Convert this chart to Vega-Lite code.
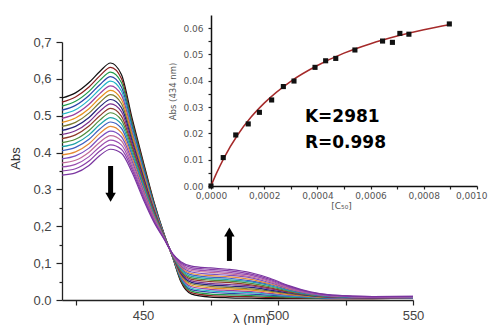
{
"$schema": "https://vega.github.io/schema/vega-lite/v6.json",
"width": 351, "height": 258,
"autosize": {"type": "none"},
"padding": {"left": 62, "top": 42, "right": 75, "bottom": 25},
"background": "white",
"config": {"view": {"stroke": null}, "font": "Liberation Sans", "axis": {"grid": false, "labelFlush": false, "domainColor": "#222", "tickColor": "#222", "labelColor": "#444", "titleColor": "#333", "titleFontWeight": "normal"}},
"datasets": {
"spectra": [
{"s":0,"w":420,"a":0.548},{"s":0,"w":425,"a":0.562},{"s":0,"w":430,"a":0.590},{"s":0,"w":434,"a":0.620},{"s":0,"w":438,"a":0.643},{"s":0,"w":442,"a":0.612},{"s":0,"w":446,"a":0.492},{"s":0,"w":450,"a":0.378},{"s":0,"w":454,"a":0.268},{"s":0,"w":458,"a":0.175},{"s":0,"w":461,"a":0.115},{"s":0,"w":464,"a":0.050},{"s":0,"w":468,"a":0.016},{"s":0,"w":475,"a":0.008},{"s":0,"w":482,"a":0.006},{"s":0,"w":490,"a":0.005},{"s":0,"w":497,"a":0.004},{"s":0,"w":504,"a":0.004},{"s":0,"w":512,"a":0.004},{"s":0,"w":520,"a":0.004},{"s":0,"w":535,"a":0.004},{"s":0,"w":550,"a":0.005},
{"s":1,"w":420,"a":0.537},{"s":1,"w":425,"a":0.551},{"s":1,"w":430,"a":0.578},{"s":1,"w":434,"a":0.608},{"s":1,"w":438,"a":0.631},{"s":1,"w":442,"a":0.601},{"s":1,"w":446,"a":0.484},{"s":1,"w":450,"a":0.373},{"s":1,"w":454,"a":0.265},{"s":1,"w":458,"a":0.174},{"s":1,"w":461,"a":0.116},{"s":1,"w":464,"a":0.053},{"s":1,"w":468,"a":0.020},{"s":1,"w":475,"a":0.012},{"s":1,"w":482,"a":0.010},{"s":1,"w":490,"a":0.009},{"s":1,"w":497,"a":0.007},{"s":1,"w":504,"a":0.006},{"s":1,"w":512,"a":0.005},{"s":1,"w":520,"a":0.004},{"s":1,"w":535,"a":0.004},{"s":1,"w":550,"a":0.005},
{"s":2,"w":420,"a":0.526},{"s":2,"w":425,"a":0.539},{"s":2,"w":430,"a":0.566},{"s":2,"w":434,"a":0.596},{"s":2,"w":438,"a":0.618},{"s":2,"w":442,"a":0.590},{"s":2,"w":446,"a":0.477},{"s":2,"w":450,"a":0.367},{"s":2,"w":454,"a":0.262},{"s":2,"w":458,"a":0.174},{"s":2,"w":461,"a":0.116},{"s":2,"w":464,"a":0.056},{"s":2,"w":468,"a":0.024},{"s":2,"w":475,"a":0.016},{"s":2,"w":482,"a":0.014},{"s":2,"w":490,"a":0.012},{"s":2,"w":497,"a":0.010},{"s":2,"w":504,"a":0.008},{"s":2,"w":512,"a":0.006},{"s":2,"w":520,"a":0.005},{"s":2,"w":535,"a":0.005},{"s":2,"w":550,"a":0.006},
{"s":3,"w":420,"a":0.515},{"s":3,"w":425,"a":0.528},{"s":3,"w":430,"a":0.555},{"s":3,"w":434,"a":0.584},{"s":3,"w":438,"a":0.606},{"s":3,"w":442,"a":0.578},{"s":3,"w":446,"a":0.469},{"s":3,"w":450,"a":0.362},{"s":3,"w":454,"a":0.259},{"s":3,"w":458,"a":0.173},{"s":3,"w":461,"a":0.117},{"s":3,"w":464,"a":0.059},{"s":3,"w":468,"a":0.028},{"s":3,"w":475,"a":0.021},{"s":3,"w":482,"a":0.018},{"s":3,"w":490,"a":0.016},{"s":3,"w":497,"a":0.013},{"s":3,"w":504,"a":0.010},{"s":3,"w":512,"a":0.007},{"s":3,"w":520,"a":0.005},{"s":3,"w":535,"a":0.005},{"s":3,"w":550,"a":0.006},
{"s":4,"w":420,"a":0.504},{"s":4,"w":425,"a":0.516},{"s":4,"w":430,"a":0.543},{"s":4,"w":434,"a":0.572},{"s":4,"w":438,"a":0.594},{"s":4,"w":442,"a":0.567},{"s":4,"w":446,"a":0.461},{"s":4,"w":450,"a":0.356},{"s":4,"w":454,"a":0.256},{"s":4,"w":458,"a":0.172},{"s":4,"w":461,"a":0.117},{"s":4,"w":464,"a":0.061},{"s":4,"w":468,"a":0.032},{"s":4,"w":475,"a":0.025},{"s":4,"w":482,"a":0.022},{"s":4,"w":490,"a":0.020},{"s":4,"w":497,"a":0.016},{"s":4,"w":504,"a":0.011},{"s":4,"w":512,"a":0.008},{"s":4,"w":520,"a":0.006},{"s":4,"w":535,"a":0.005},{"s":4,"w":550,"a":0.006},
{"s":5,"w":420,"a":0.493},{"s":5,"w":425,"a":0.505},{"s":5,"w":430,"a":0.531},{"s":5,"w":434,"a":0.560},{"s":5,"w":438,"a":0.581},{"s":5,"w":442,"a":0.556},{"s":5,"w":446,"a":0.453},{"s":5,"w":450,"a":0.351},{"s":5,"w":454,"a":0.253},{"s":5,"w":458,"a":0.172},{"s":5,"w":461,"a":0.118},{"s":5,"w":464,"a":0.064},{"s":5,"w":468,"a":0.036},{"s":5,"w":475,"a":0.029},{"s":5,"w":482,"a":0.026},{"s":5,"w":490,"a":0.023},{"s":5,"w":497,"a":0.018},{"s":5,"w":504,"a":0.013},{"s":5,"w":512,"a":0.009},{"s":5,"w":520,"a":0.006},{"s":5,"w":535,"a":0.005},{"s":5,"w":550,"a":0.006},
{"s":6,"w":420,"a":0.482},{"s":6,"w":425,"a":0.494},{"s":6,"w":430,"a":0.519},{"s":6,"w":434,"a":0.548},{"s":6,"w":438,"a":0.569},{"s":6,"w":442,"a":0.544},{"s":6,"w":446,"a":0.446},{"s":6,"w":450,"a":0.346},{"s":6,"w":454,"a":0.250},{"s":6,"w":458,"a":0.171},{"s":6,"w":461,"a":0.118},{"s":6,"w":464,"a":0.067},{"s":6,"w":468,"a":0.040},{"s":6,"w":475,"a":0.033},{"s":6,"w":482,"a":0.030},{"s":6,"w":490,"a":0.027},{"s":6,"w":497,"a":0.021},{"s":6,"w":504,"a":0.015},{"s":6,"w":512,"a":0.010},{"s":6,"w":520,"a":0.007},{"s":6,"w":535,"a":0.006},{"s":6,"w":550,"a":0.007},
{"s":7,"w":420,"a":0.471},{"s":7,"w":425,"a":0.482},{"s":7,"w":430,"a":0.507},{"s":7,"w":434,"a":0.536},{"s":7,"w":438,"a":0.557},{"s":7,"w":442,"a":0.533},{"s":7,"w":446,"a":0.438},{"s":7,"w":450,"a":0.340},{"s":7,"w":454,"a":0.247},{"s":7,"w":458,"a":0.171},{"s":7,"w":461,"a":0.119},{"s":7,"w":464,"a":0.070},{"s":7,"w":468,"a":0.044},{"s":7,"w":475,"a":0.037},{"s":7,"w":482,"a":0.034},{"s":7,"w":490,"a":0.030},{"s":7,"w":497,"a":0.024},{"s":7,"w":504,"a":0.017},{"s":7,"w":512,"a":0.011},{"s":7,"w":520,"a":0.007},{"s":7,"w":535,"a":0.006},{"s":7,"w":550,"a":0.007},
{"s":8,"w":420,"a":0.460},{"s":8,"w":425,"a":0.471},{"s":8,"w":430,"a":0.495},{"s":8,"w":434,"a":0.524},{"s":8,"w":438,"a":0.544},{"s":8,"w":442,"a":0.522},{"s":8,"w":446,"a":0.430},{"s":8,"w":450,"a":0.335},{"s":8,"w":454,"a":0.244},{"s":8,"w":458,"a":0.170},{"s":8,"w":461,"a":0.119},{"s":8,"w":464,"a":0.073},{"s":8,"w":468,"a":0.048},{"s":8,"w":475,"a":0.041},{"s":8,"w":482,"a":0.038},{"s":8,"w":490,"a":0.034},{"s":8,"w":497,"a":0.027},{"s":8,"w":504,"a":0.019},{"s":8,"w":512,"a":0.012},{"s":8,"w":520,"a":0.008},{"s":8,"w":535,"a":0.006},{"s":8,"w":550,"a":0.007},
{"s":9,"w":420,"a":0.449},{"s":9,"w":425,"a":0.459},{"s":9,"w":430,"a":0.483},{"s":9,"w":434,"a":0.512},{"s":9,"w":438,"a":0.532},{"s":9,"w":442,"a":0.511},{"s":9,"w":446,"a":0.422},{"s":9,"w":450,"a":0.329},{"s":9,"w":454,"a":0.242},{"s":9,"w":458,"a":0.169},{"s":9,"w":461,"a":0.120},{"s":9,"w":464,"a":0.076},{"s":9,"w":468,"a":0.052},{"s":9,"w":475,"a":0.045},{"s":9,"w":482,"a":0.042},{"s":9,"w":490,"a":0.038},{"s":9,"w":497,"a":0.030},{"s":9,"w":504,"a":0.021},{"s":9,"w":512,"a":0.013},{"s":9,"w":520,"a":0.008},{"s":9,"w":535,"a":0.006},{"s":9,"w":550,"a":0.007},
{"s":10,"w":420,"a":0.438},{"s":10,"w":425,"a":0.448},{"s":10,"w":430,"a":0.472},{"s":10,"w":434,"a":0.500},{"s":10,"w":438,"a":0.520},{"s":10,"w":442,"a":0.499},{"s":10,"w":446,"a":0.415},{"s":10,"w":450,"a":0.324},{"s":10,"w":454,"a":0.239},{"s":10,"w":458,"a":0.169},{"s":10,"w":461,"a":0.120},{"s":10,"w":464,"a":0.078},{"s":10,"w":468,"a":0.056},{"s":10,"w":475,"a":0.050},{"s":10,"w":482,"a":0.047},{"s":10,"w":490,"a":0.041},{"s":10,"w":497,"a":0.033},{"s":10,"w":504,"a":0.022},{"s":10,"w":512,"a":0.014},{"s":10,"w":520,"a":0.009},{"s":10,"w":535,"a":0.007},{"s":10,"w":550,"a":0.008},
{"s":11,"w":420,"a":0.427},{"s":11,"w":425,"a":0.436},{"s":11,"w":430,"a":0.460},{"s":11,"w":434,"a":0.488},{"s":11,"w":438,"a":0.508},{"s":11,"w":442,"a":0.488},{"s":11,"w":446,"a":0.407},{"s":11,"w":450,"a":0.318},{"s":11,"w":454,"a":0.236},{"s":11,"w":458,"a":0.168},{"s":11,"w":461,"a":0.121},{"s":11,"w":464,"a":0.081},{"s":11,"w":468,"a":0.060},{"s":11,"w":475,"a":0.054},{"s":11,"w":482,"a":0.051},{"s":11,"w":490,"a":0.045},{"s":11,"w":497,"a":0.036},{"s":11,"w":504,"a":0.024},{"s":11,"w":512,"a":0.014},{"s":11,"w":520,"a":0.009},{"s":11,"w":535,"a":0.007},{"s":11,"w":550,"a":0.008},
{"s":12,"w":420,"a":0.416},{"s":12,"w":425,"a":0.425},{"s":12,"w":430,"a":0.448},{"s":12,"w":434,"a":0.476},{"s":12,"w":438,"a":0.495},{"s":12,"w":442,"a":0.477},{"s":12,"w":446,"a":0.399},{"s":12,"w":450,"a":0.313},{"s":12,"w":454,"a":0.233},{"s":12,"w":458,"a":0.167},{"s":12,"w":461,"a":0.121},{"s":12,"w":464,"a":0.084},{"s":12,"w":468,"a":0.064},{"s":12,"w":475,"a":0.058},{"s":12,"w":482,"a":0.055},{"s":12,"w":490,"a":0.049},{"s":12,"w":497,"a":0.039},{"s":12,"w":504,"a":0.026},{"s":12,"w":512,"a":0.015},{"s":12,"w":520,"a":0.010},{"s":12,"w":535,"a":0.007},{"s":12,"w":550,"a":0.008},
{"s":13,"w":420,"a":0.405},{"s":13,"w":425,"a":0.414},{"s":13,"w":430,"a":0.436},{"s":13,"w":434,"a":0.464},{"s":13,"w":438,"a":0.483},{"s":13,"w":442,"a":0.466},{"s":13,"w":446,"a":0.391},{"s":13,"w":450,"a":0.308},{"s":13,"w":454,"a":0.230},{"s":13,"w":458,"a":0.167},{"s":13,"w":461,"a":0.122},{"s":13,"w":464,"a":0.087},{"s":13,"w":468,"a":0.068},{"s":13,"w":475,"a":0.062},{"s":13,"w":482,"a":0.059},{"s":13,"w":490,"a":0.052},{"s":13,"w":497,"a":0.042},{"s":13,"w":504,"a":0.028},{"s":13,"w":512,"a":0.016},{"s":13,"w":520,"a":0.010},{"s":13,"w":535,"a":0.007},{"s":13,"w":550,"a":0.008},
{"s":14,"w":420,"a":0.394},{"s":14,"w":425,"a":0.402},{"s":14,"w":430,"a":0.424},{"s":14,"w":434,"a":0.452},{"s":14,"w":438,"a":0.471},{"s":14,"w":442,"a":0.454},{"s":14,"w":446,"a":0.384},{"s":14,"w":450,"a":0.302},{"s":14,"w":454,"a":0.227},{"s":14,"w":458,"a":0.166},{"s":14,"w":461,"a":0.122},{"s":14,"w":464,"a":0.090},{"s":14,"w":468,"a":0.072},{"s":14,"w":475,"a":0.066},{"s":14,"w":482,"a":0.063},{"s":14,"w":490,"a":0.056},{"s":14,"w":497,"a":0.044},{"s":14,"w":504,"a":0.030},{"s":14,"w":512,"a":0.017},{"s":14,"w":520,"a":0.011},{"s":14,"w":535,"a":0.008},{"s":14,"w":550,"a":0.009},
{"s":15,"w":420,"a":0.383},{"s":15,"w":425,"a":0.391},{"s":15,"w":430,"a":0.412},{"s":15,"w":434,"a":0.440},{"s":15,"w":438,"a":0.458},{"s":15,"w":442,"a":0.443},{"s":15,"w":446,"a":0.376},{"s":15,"w":450,"a":0.297},{"s":15,"w":454,"a":0.224},{"s":15,"w":458,"a":0.166},{"s":15,"w":461,"a":0.123},{"s":15,"w":464,"a":0.093},{"s":15,"w":468,"a":0.076},{"s":15,"w":475,"a":0.070},{"s":15,"w":482,"a":0.067},{"s":15,"w":490,"a":0.060},{"s":15,"w":497,"a":0.047},{"s":15,"w":504,"a":0.032},{"s":15,"w":512,"a":0.018},{"s":15,"w":520,"a":0.011},{"s":15,"w":535,"a":0.008},{"s":15,"w":550,"a":0.009},
{"s":16,"w":420,"a":0.372},{"s":16,"w":425,"a":0.379},{"s":16,"w":430,"a":0.401},{"s":16,"w":434,"a":0.428},{"s":16,"w":438,"a":0.446},{"s":16,"w":442,"a":0.432},{"s":16,"w":446,"a":0.368},{"s":16,"w":450,"a":0.291},{"s":16,"w":454,"a":0.221},{"s":16,"w":458,"a":0.165},{"s":16,"w":461,"a":0.123},{"s":16,"w":464,"a":0.096},{"s":16,"w":468,"a":0.080},{"s":16,"w":475,"a":0.075},{"s":16,"w":482,"a":0.071},{"s":16,"w":490,"a":0.063},{"s":16,"w":497,"a":0.050},{"s":16,"w":504,"a":0.033},{"s":16,"w":512,"a":0.019},{"s":16,"w":520,"a":0.012},{"s":16,"w":535,"a":0.008},{"s":16,"w":550,"a":0.009},
{"s":17,"w":420,"a":0.361},{"s":17,"w":425,"a":0.368},{"s":17,"w":430,"a":0.389},{"s":17,"w":434,"a":0.416},{"s":17,"w":438,"a":0.434},{"s":17,"w":442,"a":0.421},{"s":17,"w":446,"a":0.360},{"s":17,"w":450,"a":0.286},{"s":17,"w":454,"a":0.218},{"s":17,"w":458,"a":0.164},{"s":17,"w":461,"a":0.124},{"s":17,"w":464,"a":0.098},{"s":17,"w":468,"a":0.084},{"s":17,"w":475,"a":0.079},{"s":17,"w":482,"a":0.075},{"s":17,"w":490,"a":0.067},{"s":17,"w":497,"a":0.053},{"s":17,"w":504,"a":0.035},{"s":17,"w":512,"a":0.020},{"s":17,"w":520,"a":0.012},{"s":17,"w":535,"a":0.008},{"s":17,"w":550,"a":0.009},
{"s":18,"w":420,"a":0.350},{"s":18,"w":425,"a":0.356},{"s":18,"w":430,"a":0.377},{"s":18,"w":434,"a":0.404},{"s":18,"w":438,"a":0.421},{"s":18,"w":442,"a":0.409},{"s":18,"w":446,"a":0.353},{"s":18,"w":450,"a":0.280},{"s":18,"w":454,"a":0.215},{"s":18,"w":458,"a":0.164},{"s":18,"w":461,"a":0.125},{"s":18,"w":464,"a":0.101},{"s":18,"w":468,"a":0.088},{"s":18,"w":475,"a":0.083},{"s":18,"w":482,"a":0.079},{"s":18,"w":490,"a":0.070},{"s":18,"w":497,"a":0.056},{"s":18,"w":504,"a":0.037},{"s":18,"w":512,"a":0.021},{"s":18,"w":520,"a":0.013},{"s":18,"w":535,"a":0.009},{"s":18,"w":550,"a":0.010},
{"s":19,"w":420,"a":0.339},{"s":19,"w":425,"a":0.345},{"s":19,"w":430,"a":0.365},{"s":19,"w":434,"a":0.392},{"s":19,"w":438,"a":0.409},{"s":19,"w":442,"a":0.398},{"s":19,"w":446,"a":0.345},{"s":19,"w":450,"a":0.275},{"s":19,"w":454,"a":0.212},{"s":19,"w":458,"a":0.163},{"s":19,"w":461,"a":0.125},{"s":19,"w":464,"a":0.104},{"s":19,"w":468,"a":0.092},{"s":19,"w":475,"a":0.087},{"s":19,"w":482,"a":0.083},{"s":19,"w":490,"a":0.074},{"s":19,"w":497,"a":0.059},{"s":19,"w":504,"a":0.039},{"s":19,"w":512,"a":0.022},{"s":19,"w":520,"a":0.013},{"s":19,"w":535,"a":0.009},{"s":19,"w":550,"a":0.010}
],
"arrows": [{"w":438,"a":0.3635,"a2":0.285},{"w":482,"a":0.106,"a2":0.178}],
"heads": [{"w":438,"a":0.279,"dir":"down"},{"w":482,"a":0.1845,"dir":"up"}],
"points": [{"c":0,"v":0},{"c":0.000046,"v":0.0108},{"c":0.000093,"v":0.0194},{"c":0.00014,"v":0.0236},{"c":0.000182,"v":0.028},{"c":0.000228,"v":0.0327},{"c":0.000272,"v":0.0378},{"c":0.000312,"v":0.0399},{"c":0.000391,"v":0.0451},{"c":0.000431,"v":0.0476},{"c":0.000469,"v":0.0485},{"c":0.000541,"v":0.0517},{"c":0.000645,"v":0.0551},{"c":0.000682,"v":0.0546},{"c":0.00071,"v":0.058},{"c":0.000744,"v":0.0577},{"c":0.000896,"v":0.0616}],
"fit": [{"c":0,"v":0},{"c":0.00002,"v":0.0047},{"c":0.00005,"v":0.0109},{"c":0.0001,"v":0.0194},{"c":0.00015,"v":0.0261},{"c":0.0002,"v":0.0315},{"c":0.0003,"v":0.0398},{"c":0.0004,"v":0.0458},{"c":0.0005,"v":0.0505},{"c":0.0006,"v":0.0541},{"c":0.0007,"v":0.0570},{"c":0.0008,"v":0.0594},{"c":0.0009,"v":0.0614}],
"notes": [{"c":0.000353,"v":0.0243,"t":"K=2981"},{"c":0.000353,"v":0.01445,"t":"R=0.998"}]
},
"layer": [
{
"encoding": {
"x": {"field": "w", "type": "quantitative", "scale": {"domain": [420, 550], "nice": false, "zero": false},
 "axis": {"orient": "bottom", "values": [425, 450, 475, 500, 525, 550], "labelExpr": "datum.value % 50 == 0 ? datum.value : ''", "tickSize": 5, "tickWidth": 1.2, "domainWidth": 1.3, "labelFont": "Liberation Sans", "labelFontSize": 13, "labelPadding": 4, "title": "λ (nm)", "titleFont": "Liberation Sans", "titleFontSize": 13, "titleX": 189, "titleY": 22, "titleBaseline": "alphabetic", "titleAlign": "center"}},
"y": {"field": "a", "type": "quantitative", "scale": {"domain": [0, 0.7], "nice": false},
 "axis": {"orient": "left", "values": [0, 0.05, 0.1, 0.15, 0.2, 0.25, 0.3, 0.35, 0.4, 0.45, 0.5, 0.55, 0.6, 0.65, 0.7], "labelExpr": "abs(datum.value*10 - round(datum.value*10)) > 0.01 ? '' : ((round(datum.value*10) == 7 || round(datum.value*10) == 6 || round(datum.value*10) == 2 || round(datum.value*10) == 1) ? replace(format(datum.value, '.1f'), '.', ',') : format(datum.value, '.1f'))", "tickSize": {"condition": {"test": "abs(datum.value*10 - round(datum.value*10)) < 0.01", "value": 6}, "value": 3}, "tickWidth": 1.2, "domainWidth": 1.3, "labelFont": "Liberation Sans", "labelFontSize": 13, "labelPadding": 5, "title": "Abs", "titleFont": "Liberation Sans", "titleFontSize": 13, "titleX": -47, "titleY": 116, "titleAngle": 270, "titleBaseline": "middle", "titleAlign": "center"}}
},
"layer": [
{"data": {"name": "spectra"}, "mark": {"type": "line", "interpolate": "monotone", "strokeWidth": 1.2},
 "encoding": {"color": {"field": "s", "type": "nominal", "legend": null, "scale": {"domain": [0,1,2,3,4,5,6,7,8,9,10,11,12,13,14,15,16,17,18,19], "range": ["#111111","#8c2020","#1f9a4a","#2b45a8","#22b5c8","#9a3fa0","#e8901e","#7c7a30","#23237a","#7a2f8f","#8f3a2a","#4f8c3a","#1fa3a8","#3f5fc0","#e58a35","#7b4fc0","#c06a9a","#9b4fb0","#8a3fa8","#7a35a0"]}}}},
{"data": {"name": "arrows"}, "mark": {"type": "rule", "strokeWidth": 5, "color": "#000"}, "encoding": {"y2": {"field": "a2"}}},
{"data": {"name": "heads"}, "mark": {"type": "point", "filled": true, "color": "#000", "opacity": 1, "size": 110, "strokeWidth": 0},
 "encoding": {"shape": {"field": "dir", "type": "nominal", "legend": null, "scale": {"domain": ["down", "up"], "range": ["triangle-down", "triangle-up"]}}}}
]
},
{
"encoding": {
"x": {"field": "c", "type": "quantitative", "scale": {"domain": [0, 0.001], "range": [149, 415], "nice": false, "zero": false},
 "axis": {"orient": "bottom", "offset": -114, "values": [0, 0.0001, 0.0002, 0.0003, 0.0004, 0.0005, 0.0006, 0.0007, 0.0008, 0.0009, 0.001], "labelExpr": "abs(datum.value*5000 - round(datum.value*5000)) > 0.01 ? '' : replace(format(datum.value, '.4f'), '.', ',')", "labelAlign": {"condition": {"test": "datum.value > 0.00095", "value": "right"}, "value": "center"}, "labelOffset": {"condition": {"test": "datum.value > 0.00095", "value": 10}, "value": 0}, "tickSize": 3, "tickWidth": 1.2, "domainWidth": 1.5, "domainColor": "#111", "labelFont": "DejaVu Sans", "labelFontSize": 9, "labelPadding": 2, "labelColor": "#555", "title": "[C₅₀]", "titleFont": "DejaVu Sans", "titleFontSize": 9, "titleColor": "#555", "titleX": 279, "titleY": 15, "titleBaseline": "top", "titleAlign": "center"}},
"y": {"field": "v", "type": "quantitative", "scale": {"domain": [0, 0.065], "range": [144, -27], "nice": false},
 "axis": {"orient": "left", "offset": -149, "values": [0, 0.005, 0.01, 0.015, 0.02, 0.025, 0.03, 0.035, 0.04, 0.045, 0.05, 0.055, 0.06], "labelExpr": "abs(datum.value*100 - round(datum.value*100)) > 0.01 ? '' : format(datum.value, '.2f')", "tickSize": 3, "tickWidth": 1.2, "domainWidth": 1.5, "domainColor": "#111", "labelFont": "DejaVu Sans", "labelFontSize": 9, "labelPadding": 5, "labelColor": "#555", "title": "Abs (434 nm)", "titleFont": "DejaVu Sans", "titleFontSize": 8.5, "titleColor": "#555", "titleX": -39, "titleY": 49, "titleAngle": 270, "titleBaseline": "middle", "titleAlign": "center"}}
},
"layer": [
{"data": {"name": "fit"}, "mark": {"type": "line", "interpolate": "monotone", "color": "#a52a2a", "strokeWidth": 1.5}},
{"data": {"name": "points"}, "mark": {"type": "point", "shape": "square", "filled": true, "color": "#111", "opacity": 1, "size": 26}},
{"data": {"name": "notes"}, "mark": {"type": "text", "align": "left", "baseline": "alphabetic", "font": "DejaVu Sans", "fontWeight": "bold", "fontSize": 17, "color": "#000"}, "encoding": {"text": {"field": "t"}}}
]
}
],
"resolve": {"scale": {"x": "independent", "y": "independent"}, "axis": {"x": "independent", "y": "independent"}}
}
